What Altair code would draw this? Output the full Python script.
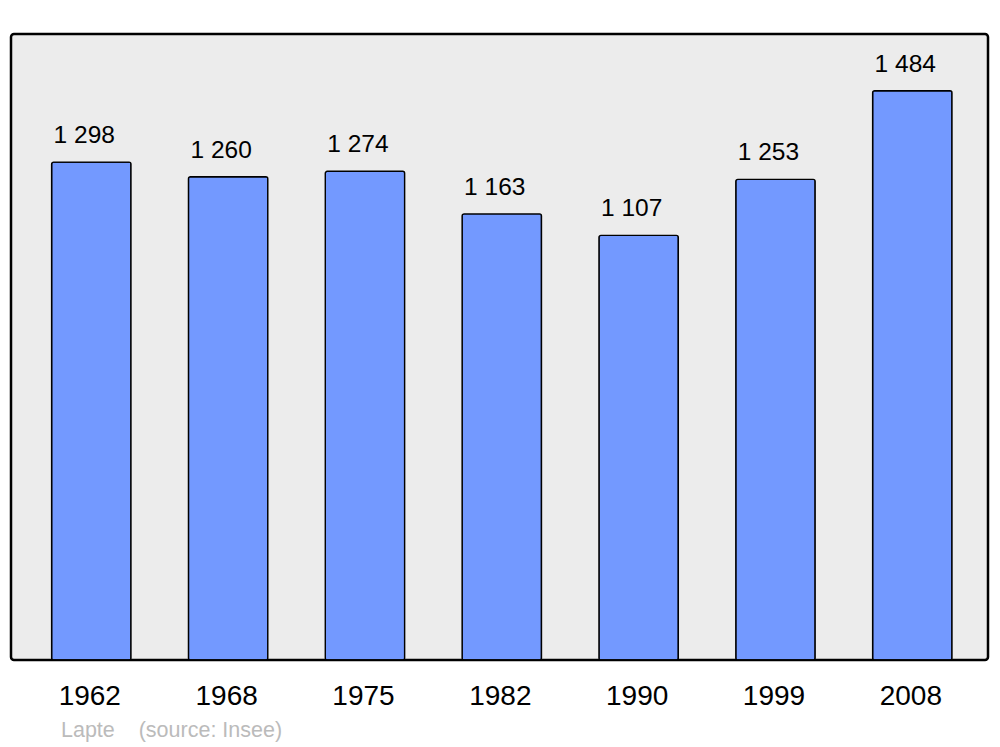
import altair as alt
import pandas as pd

years = ["1962", "1968", "1975", "1982", "1990", "1999", "2008"]
population = [1298, 1260, 1274, 1163, 1107, 1253, 1484]
value_labels = ["1 298", "1 260", "1 274", "1 163", "1 107", "1 253", "1 484"]

df = pd.DataFrame({"year": years, "pop": population, "label": value_labels})

FONT = "Liberation Sans"
xscale = alt.Scale(paddingInner=0.42, paddingOuter=0.28, align=0.53)

x = alt.X("year:N", sort=years, scale=xscale,
          axis=alt.Axis(title=None, labelAngle=0, ticks=False, tickSize=0, domain=False,
                        labelFontSize=28, labelFont=FONT, labelColor="#000000",
                        labelBaseline="alphabetic", labelPadding=44, labelOffset=-1.5,
                        grid=False))
y = alt.Y("pop:Q", scale=alt.Scale(domain=[0, 1632], nice=False, zero=True), axis=None)

bars = alt.Chart(df).mark_bar(
    color="#7399FF", stroke="#000000", strokeWidth=1.4, cornerRadius=2
).encode(x=x, y=y)

labels = alt.Chart(df).mark_text(
    align="left", baseline="alphabetic", dx=2, dy=-19,
    fontSize=24.5, font=FONT, color="#000000"
).encode(x=alt.X("year:N", sort=years, bandPosition=0, scale=xscale),
         y=y, text="label:N")

chart = alt.layer(bars, labels).properties(
    width=977, height=626,
    background="#FFFFFF",
    autosize=alt.AutoSizeParams(type="none"),
    padding={"left": 3, "top": 26, "right": 3, "bottom": 86},
    title=alt.TitleParams(
        "Lapte\u00a0\u00a0\u00a0\u00a0(source: Insee)", orient="bottom", anchor="start",
        fontSize=21.5, font=FONT, fontWeight="normal", color="#BBBBBB",
        dx=50, offset=10
    ),
).configure_view(
    fill="#ECECEC", stroke="#000000", strokeWidth=2.5, cornerRadius=3
)

chart.save("out.html", embed_options={"renderer": "svg", "actions": False})
